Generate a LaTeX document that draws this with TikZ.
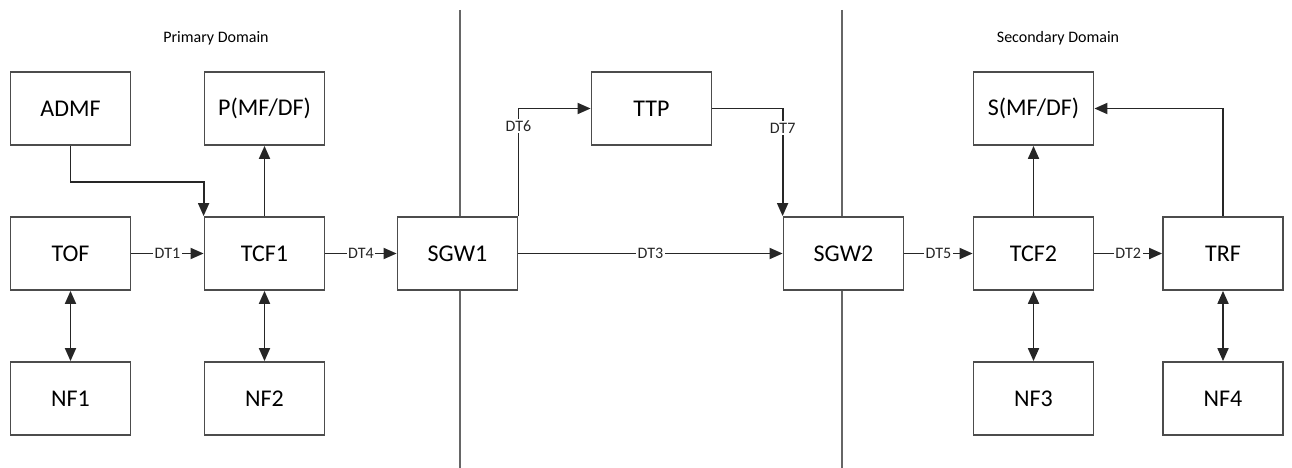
\documentclass[tikz,border=0pt]{standalone}
\usepackage{fontspec}
\setmainfont{Carlito}
\usetikzlibrary{arrows.meta}
\tikzset{every picture/.style={line width=1.8pt}}

\begin{document}
\begin{tikzpicture}[x=1pt,y=-1pt,
    box/.style={draw=black!70,fill=white,minimum width=120pt,minimum height=73pt,font=\fontsize{24}{28}\selectfont},
    lab/.style={fill=white,inner sep=1.5pt,font=\fontsize{16}{18}\selectfont},
    arr/.style={-{Triangle[length=13pt,width=11pt]},black!85},
    dbl/.style={{Triangle[length=13pt,width=11pt]}-{Triangle[length=13pt,width=11pt]},black!85}]
    \useasboundingbox (0,0) rectangle (1292,468);
    \draw [black!60] (460,10) -- (460,468) (842,10) -- (842,468);
    \node [font=\fontsize{16}{18}\selectfont] (pri) at (216,38) {Primary Domain};
    \node [font=\fontsize{16}{18}\selectfont] (sec) at (1058,38) {Secondary Domain};
    \node [box] (ADMF) at (70.5,108.5) {ADMF};
    \node [box] (PMF) at (264.5,108.5) {P(MF/DF)};
    \node [box] (TOF) at (70.5,253.5) {TOF};
    \node [box] (TCF1) at (264.5,253.5) {TCF1};
    \node [box] (NF1) at (70.5,398.5) {NF1};
    \node [box] (NF2) at (264.5,398.5) {NF2};
    \node [box] (SGW1) at (457.5,253.5) {SGW1};
    \node [box] (TTP) at (651.5,108.5) {TTP};
    \node [box] (SGW2) at (843.5,253.5) {SGW2};
    \node [box] (SMF) at (1033.5,108.5) {S(MF/DF)};
    \node [box] (TCF2) at (1033.5,253.5) {TCF2};
    \node [box] (TRF) at (1223,253.5) {TRF};
    \node [box] (NF3) at (1033.5,398.5) {NF3};
    \node [box] (NF4) at (1223,398.5) {NF4};
    \draw [arr] (ADMF.south) -- ++(0,36) -| (TCF1.north west);
    \draw [arr] (TCF1) -- (PMF);
    \draw [arr] (TOF) -- node [lab] {DT1} (TCF1);
    \draw [arr] (TCF1) -- node [lab] {DT4} (SGW1);
    \draw [arr] (SGW1) -- node [lab] {DT3} (SGW2);
    \draw [arr] (SGW1.north east) |- node [lab,pos=0.42] {DT6} (TTP.west);
    \draw [arr] (TTP.east) -| node [lab,pos=0.59] {DT7} (SGW2.north west);
    \draw [arr] (SGW2) -- node [lab] {DT5} (TCF2);
    \draw [arr] (TCF2) -- node [lab] {DT2} (TRF);
    \draw [arr] (TCF2) -- (SMF);
    \draw [arr] (TRF.north) |- (SMF.east);
    \draw [dbl] (TOF) -- (NF1);
    \draw [dbl] (TCF1) -- (NF2);
    \draw [dbl] (TCF2) -- (NF3);
    \draw [dbl] (TRF) -- (NF4);
\end{tikzpicture}
\end{document}
